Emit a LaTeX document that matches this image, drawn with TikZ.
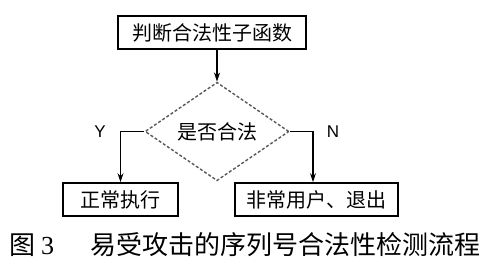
\documentclass[tikz,border=0pt]{standalone}
\usepackage{fontspec}
\setmainfont{Liberation Serif}
\newfontfamily\cjk{Noto Sans CJK SC}
\newfontfamily\lat{Liberation Sans}
\usetikzlibrary{shapes.geometric,arrows.meta}
\begin{document}
\begin{tikzpicture}[x=1pt,y=1pt,
  boxst/.style={draw=black,line width=1.8pt,inner sep=0pt,minimum height=33pt,font=\cjk\fontsize{20}{20}\selectfont},
  decst/.style={draw=black!65,densely dashed,line width=1.4pt,diamond,inner sep=0pt,minimum width=144pt,minimum height=63pt,font=\cjk\fontsize{20}{20}\selectfont},
  conn/.style={line width=1.3pt,-{Stealth[length=9pt,width=6pt]}},
  lbl/.style={font=\lat\fontsize{17}{17}\selectfont}]
\useasboundingbox (0,0) rectangle (500,273);
\node[boxst,minimum width=188pt] (f) at (212,240.5) {判断合法性子函数};
\node[decst] (d) at (217,141.5) {是否合法};
\node[boxst,minimum width=115pt] (y) at (120.5,73.5) {正常执行};
\node[boxst,minimum width=163pt] (n) at (316.5,73.5) {非常用户、退出};
\draw[conn] (f.south -| d.north) -- (d.north);
\draw[conn] (d.west) -| (y.north);
\draw[conn] (d.east) -| ([xshift=-3.5pt]n.north);
\node[lbl] (ly) at (100,141) {Y};
\node[lbl] (ln) at (333,141) {N};
\node[anchor=west,inner sep=0pt,font=\fontsize{26}{26}\selectfont] (c1) at (9,28) {{\cjk 图}\hspace{6pt}3};
\node[anchor=west,inner sep=0pt,font=\cjk\fontsize{26}{26}\selectfont] (c2) at (90,28) {易受攻击的序列号合法性检测流程};
\end{tikzpicture}
\end{document}
